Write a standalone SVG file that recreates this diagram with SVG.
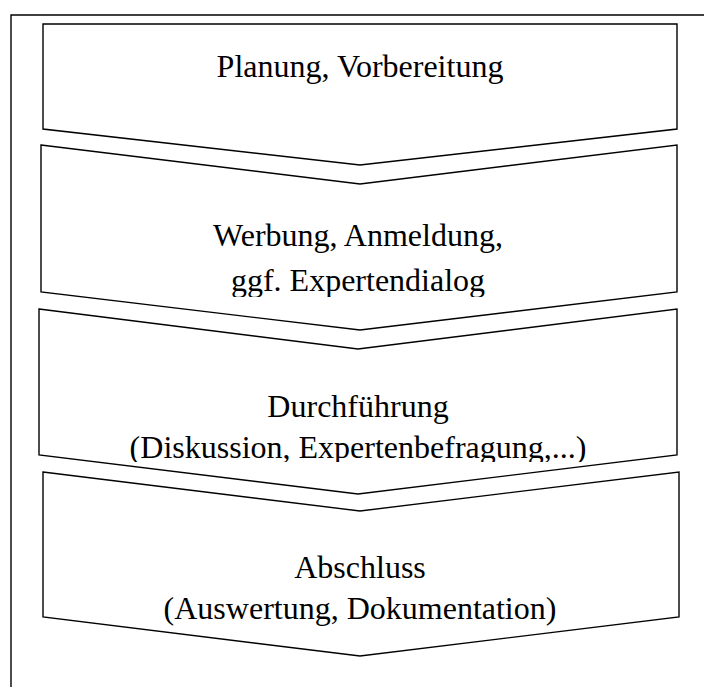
<svg xmlns="http://www.w3.org/2000/svg" width="704" height="687" viewBox="0 0 704 687">
  <style>
    .frame { fill: none; stroke: #000; stroke-width: 1.4; }
    .chev { fill: #fff; stroke: #000; stroke-width: 1.4; stroke-linejoin: miter; }
    .lbl { font-family: "Liberation Serif", "Times New Roman", serif; font-size: 32px; fill: #000; text-anchor: middle; }
  </style>
  <defs>
    <clipPath id="clip2"><rect x="0" y="140" width="704" height="157"/></clipPath>
    <clipPath id="clip3"><rect x="0" y="300" width="704" height="162"/></clipPath>
  </defs>
  <rect width="704" height="687" fill="#fff"/>
  <g id="frame">
    <path class="frame" d="M11,687 L11,15 L704,15"/>
  </g>
  <g id="step1">
    <path class="chev" d="M43,24 L677,24 L677,129 L360,165 L43,129 Z"/>
    <text class="lbl" x="360" y="77">Planung, Vorbereitung</text>
  </g>
  <g id="step2">
    <path class="chev" d="M41,145 L360,184 L677,145 L677,292 L360,330 L41,292 Z"/>
    <g clip-path="url(#clip2)">
      <text class="lbl" x="358" y="246">Werbung, Anmeldung,</text>
      <text class="lbl" x="358" y="291">ggf. Expertendialog</text>
    </g>
  </g>
  <g id="step3">
    <path class="chev" d="M39,309 L358,349 L677,309 L677,455 L358,494 L39,455 Z"/>
    <g clip-path="url(#clip3)">
      <text class="lbl" x="358" y="417">Durchführung</text>
      <text class="lbl" x="358" y="458">(Diskussion, Expertenbefragung,...)</text>
    </g>
  </g>
  <g id="step4">
    <path class="chev" d="M43,472 L360,511 L679,472 L679,617 L360,656 L43,617 Z"/>
    <text class="lbl" x="360" y="578">Abschluss</text>
    <text class="lbl" x="360" y="619">(Auswertung, Dokumentation)</text>
  </g>
  <g id="connectors"/>
</svg>
